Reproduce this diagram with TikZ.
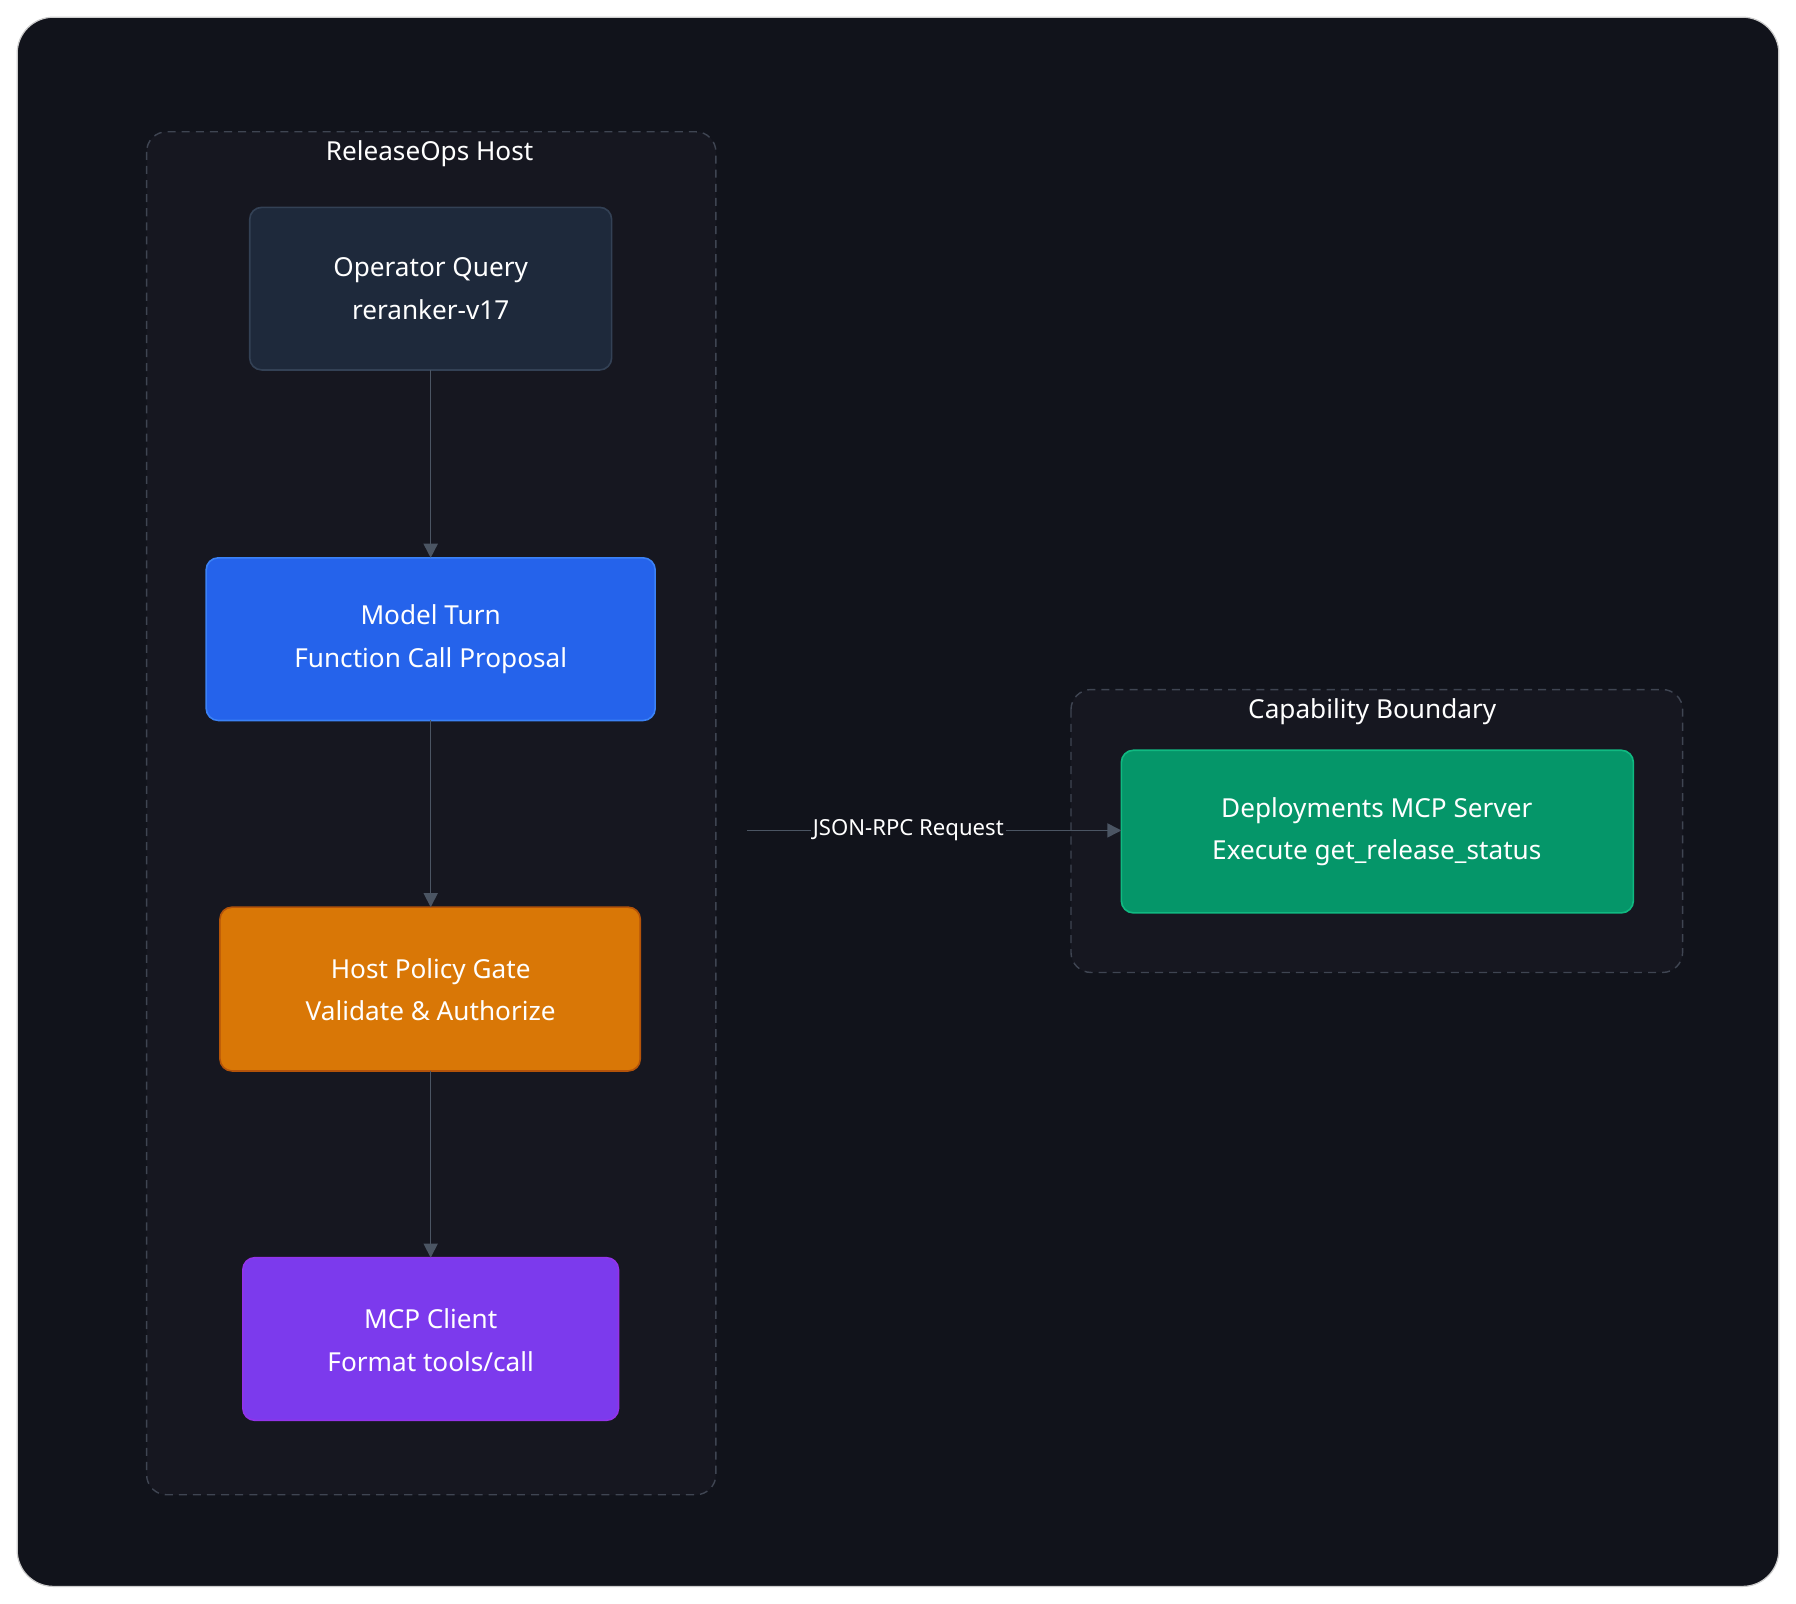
\documentclass[tikz,border=0pt]{standalone}
\usepackage{fontspec}
\setmainfont{Noto Sans}
\usetikzlibrary{arrows.meta}
\definecolor{bgd}{HTML}{11131B}
\definecolor{clfill}{HTML}{161720}
\definecolor{clline}{HTML}{3F4552}
\definecolor{edge}{HTML}{4B5563}
\definecolor{oqf}{HTML}{1E293B}
\definecolor{oqd}{HTML}{334155}
\begin{document}
\begin{tikzpicture}[x=0.02cm,y=-0.02cm,
  box/.style={rounded corners=6pt,line width=0.8pt},
  txt/.style={text=white,align=center,font=\fontsize{13}{21}\selectfont},
  cl/.style={draw=clline,fill=clfill,dashed,dash pattern=on 4pt off 3pt,rounded corners=10pt,line width=0.7pt},
  ttl/.style={text=white,font=\fontsize{13}{16}\selectfont\bfseries},
  arr/.style={draw=edge,line width=0.8pt,-{Triangle[length=7pt,width=7pt]}}]
\useasboundingbox (0,0) rectangle (1568,1400);
\fill[white] (0,0) rectangle (1568,1400);
\draw[fill=bgd,draw=gray!40,rounded corners=18pt,line width=0.6pt] (15,15) rectangle (1553,1385);
\draw[cl] (128,115) rectangle (625,1305);
\node[ttl] (t1) at (375,134) {ReleaseOps Host};
\draw[cl] (935,602) rectangle (1469,849);
\node[ttl] (t2) at (1198,621) {Capability Boundary};
\draw[box,fill=oqf,draw=oqd] (218,181) rectangle (534,323);
\node[txt] (oq) at (376,252) {Operator Query\\reranker-v17};
\coordinate (oqb) at (376,323);
\draw[box,fill={rgb,255:red,37;green,99;blue,235},draw={rgb,255:red,59;green,130;blue,246}] (180,487) rectangle (572,629);
\node[txt] (mt) at (376,558) {Model Turn\\Function Call Proposal};
\coordinate (mtt) at (376,487); \coordinate (mtb) at (376,629);
\draw[box,fill={rgb,255:red,217;green,119;blue,6},draw={rgb,255:red,180;green,83;blue,9}] (192,792) rectangle (559,935);
\node[txt] (hp) at (376,864) {Host Policy Gate\\Validate \& Authorize};
\coordinate (hpt) at (376,792); \coordinate (hpb) at (376,935);
\draw[box,fill={rgb,255:red,124;green,58;blue,237},draw={rgb,255:red,147;green,51;blue,234}] (212,1098) rectangle (540,1240);
\node[txt] (mc) at (376,1170) {MCP Client\\Format tools/call};
\coordinate (mct) at (376,1098);
\draw[box,fill={rgb,255:red,5;green,150;blue,105},draw={rgb,255:red,16;green,185;blue,129}] (979,655) rectangle (1426,797);
\node[txt] (ds) at (1202,726) {Deployments MCP Server\\Execute get\_release\_status};
\coordinate (dsl) at (979,725);
\coordinate (js) at (652,725);
\draw[arr] (oqb) -- (mtt);
\draw[arr] (mtb) -- (hpt);
\draw[arr] (hpb) -- (mct);
\draw[arr] (js) -- (dsl);
\node[fill=bgd,text=white,font=\fontsize{11}{13}\selectfont,inner sep=1pt] (lbl) at (793,725) {JSON-RPC Request};
\end{tikzpicture}
\end{document}
